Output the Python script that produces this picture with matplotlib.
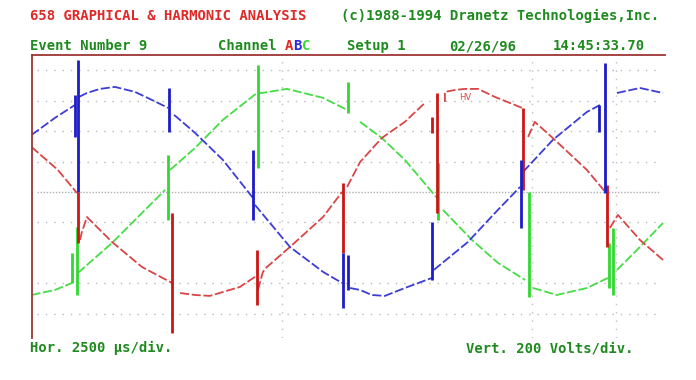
import numpy as np
import matplotlib; matplotlib.use("Agg")
import matplotlib.pyplot as plt

nan = np.nan
RED, GREEN, BLUE = "#d94545", "#45dd45", "#3c3cd6"
RED_SP, GREEN_SP, BLUE_SP = "#cc1515", "#30d830", "#1c1cc8"
TXT_RED, TXT_GREEN, FRAME = "#e02828", "#1f8a1f", "#9b3535"

# time in ms (2.5 ms/div), voltage in V (200 V/div); nan = break in trace
blue_t = [0.0, 0.70, 1.30, nan, 1.42, 1.66, 2.05, 2.50, 3.10, 3.61, 4.09, nan,
          4.27, 4.90, 5.73, 6.63, nan, 6.69, 7.74, 8.73, 9.30, nan,
          9.54, 9.84, 10.19, 10.58, 11.18, 11.99, nan, 12.05, 13.07, 13.88, 14.63, nan,
          14.72, 15.61, 16.63, 17.02, nan, 17.53, 18.22, 18.91]
blue_v = [375, 487, 572, nan, 625, 651, 678, 691, 658, 605, 553, nan,
          507, 388, 211, -39, nan, -85, -362, -526, -599, nan,
          -632, -645, -678, -684, -632, -566, nan, -513, -329, -138, 33, nan,
          132, 342, 526, 572, nan, 651, 684, 651]

green_t = [0.0, 0.70, 1.21, nan, 1.39, 2.41, 3.31, 4.00, nan,
           4.15, 4.90, 5.73, 6.75, 6.90, 7.65, 8.73, 9.45, nan,
           9.84, 10.49, 11.18, 12.14, nan, 12.32, 13.19, 13.97, 14.78, nan,
           15.02, 15.73, 16.63, 17.26, nan, 17.53, 18.22, 18.91]
green_v = [-678, -645, -599, nan, -533, -336, -138, 13, nan,
           145, 290, 474, 651, 651, 678, 619, 540, nan,
           461, 355, 211, -39, nan, -118, -316, -467, -579, nan,
           -632, -678, -632, -566, nan, -513, -362, -204]

red_t = [0.0, 0.79, 1.36, nan, 1.45, 1.51, 1.66, 2.41, 3.31, 4.21, nan,
         4.45, 4.90, 5.34, 6.24, 6.69, nan, 6.78, 6.93, 7.05, 7.74, 8.73, 9.30, nan,
         9.45, 9.84, 10.49, 11.18, 11.78, nan, 12.38, 12.38, 12.68, 12.98, 13.37, 13.88, 14.69, nan,
         14.87, 15.07, 15.61, 16.63, 17.18, nan, 17.32, 17.56, 18.22, 18.91]
red_v = [296, 145, -7, nan, -316, -263, -165, -329, -494, -599, nan,
         -665, -678, -684, -625, -559, nan, -645, -526, -494, -362, -165, 0, nan,
         33, 197, 355, 461, 586, nan, 592, 658, 671, 678, 678, 625, 553, nan,
         362, 461, 355, 145, 0, nan, -237, -151, -316, -447]

# commutation spikes: time, low, high
blue_sp_t = [1.30, 1.39, 4.12, 6.63, 9.33, 9.48, 11.99, 14.66, 16.99, 17.18]
blue_sp_lo = [362, 0, 395, -184, -763, -645, -579, -237, 395, -7]
blue_sp_hi = [638, 869, 684, 276, -401, -415, -197, 211, 572, 849]

green_sp_t = [1.21, 1.36, 4.09, 6.78, 9.48, 12.17, 14.90, 17.29, 17.41]
green_sp_lo = [-599, -678, -184, 158, 520, -184, -691, -632, -678]
green_sp_hi = [-401, -230, 243, 836, 724, 191, 0, -336, -237]

red_sp_t = [1.39, 4.21, 6.75, 9.33, 11.99, 12.14, 14.72, 17.23]
red_sp_lo = [-336, -928, -744, -401, 388, -138, 13, -362]
red_sp_hi = [0, -138, -382, 59, 494, 651, 553, 46]

grid_v = [800, 600, 400, 200, -200, -600, -800]
grid_t = [7.5, 15.0, 17.5]

W, H = 696, 380
fig = plt.figure(figsize=(W/100, H/100), dpi=100)
fig.patch.set_facecolor("white")
ax = fig.add_axes([31.5/W, 42/H, 633.5/W, 283/H])
ax.set_xlim(0, 18.97); ax.set_ylim(-961, 901)
ax.set_xticks([]); ax.set_yticks([])
for s in ["right", "bottom"]:
    ax.spines[s].set_visible(False)
for s in ["top", "left"]:
    ax.spines[s].set_color(FRAME); ax.spines[s].set_linewidth(1.3)

ax.hlines(grid_v, 0.16, 18.8, colors="#b8b8b8", lw=1, linestyles=(0, (1, 5)))
ax.hlines([0], 0.16, 18.8, colors="#b0b0b0", lw=1, linestyles=(0, (1, 1.2)))
ax.vlines(grid_t, -961, 901, colors="#c0c0c0", lw=1, linestyles=(0, (1, 5)))

dash = (0, (5, 1.5))
ax.plot(green_t, green_v, color=GREEN, lw=1.3, ls=dash)
ax.plot(red_t, red_v, color=RED, lw=1.3, ls=dash)
ax.plot(blue_t, blue_v, color=BLUE, lw=1.3, ls=dash)
ax.vlines(green_sp_t, green_sp_lo, green_sp_hi, colors=GREEN_SP, lw=2)
ax.vlines(red_sp_t, red_sp_lo, red_sp_hi, colors=RED_SP, lw=2)
ax.vlines(blue_sp_t, blue_sp_lo, blue_sp_hi, colors=BLUE_SP, lw=2)
ax.text(12.98, 619, "HV", color=RED, fontsize=6, ha="center", va="center")

mono = dict(family="DejaVu Sans Mono", fontsize=10, fontweight="bold", va="center")
def put(x, y, s, c):
    fig.text(x/W, 1 - y/H, s, color=c, **mono)

put(30, 16, "658 GRAPHICAL & HARMONIC ANALYSIS", TXT_RED)
put(341, 16, "(c)1988-1994 Dranetz Technologies,Inc.", TXT_GREEN)
put(30, 46, "Event Number 9", TXT_GREEN)
put(218, 46, "Channel", TXT_GREEN)
put(285, 46, "A", TXT_RED)
put(293.5, 46, "B", "#2a2ae0")
put(302, 46, "C", "#3cd83c")
put(347, 46, "Setup 1", TXT_GREEN)
put(449, 46, "02/26/96", TXT_GREEN)
put(553, 46, "14:45:33.70", TXT_GREEN)
put(30, 348, "Hor. 2500 \u00b5s/div.", TXT_GREEN)
put(466, 348, "Vert. 200 Volts/div.", TXT_GREEN)

fig.savefig("out.png", dpi=100, facecolor="white")
